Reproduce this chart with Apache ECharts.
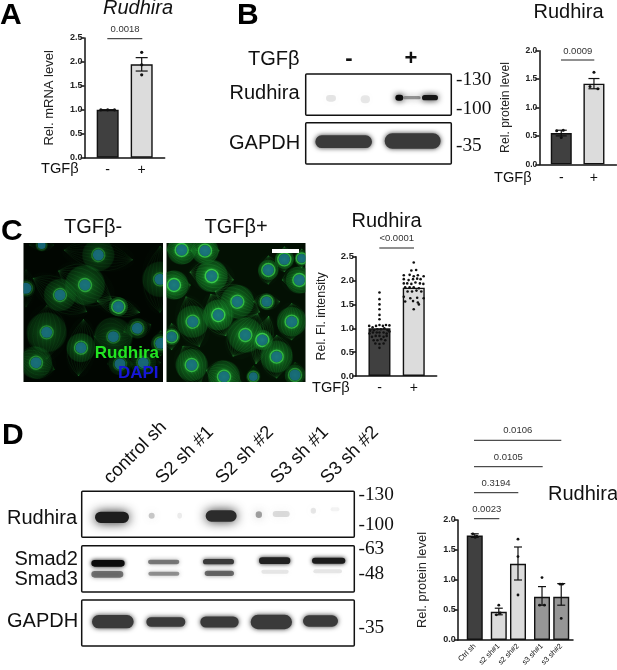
<!DOCTYPE html>
<html>
<head>
<meta charset="utf-8">
<style>
  html, body { margin: 0; padding: 0; background: #fff; }
  #main { width: 617px; height: 670px; }
</style>
<script src="https://cdn.jsdelivr.net/npm/echarts@6/dist/echarts.min.js"></script>
</head>
<body>
<div id="main"></div>
<script>
// panel A
const mrnaCats = ['-', '+'];
const mrnaTicks = [0, 0.5, 1, 1.5, 2, 2.5];
const mrnaVals = [1.0, 1.95];
const mrnaErrLow = [1.0, 1.81];
const mrnaErrHigh = [1.0, 2.09];
const mrnaPts = [[-0.2, 1], [0, 1], [0.2, 1], [1, 2.2], [1, 1.94], [1, 1.73]];

// panel B
const protCats = ['-', '+'];
const protTicks = [0, 0.5, 1, 1.5, 2];
const protVals = [0.55, 1.42];
const protErrLow = [0.5, 1.33];
const protErrHigh = [0.6, 1.51];
const protPts = [[-0.14, 0.59], [0.06, 0.6], [0, 0.47], [1, 1.62], [0.88, 1.37], [1.12, 1.33]];

// panel C
const fluoCats = ['-', '+'];
const fluoTicks = [0, 0.5, 1, 1.5, 2, 2.5];
const fluoVals = [1.0, 1.85];
const fluoPts = [
  [0, 1.75], [0, 1.61], [0, 1.5], [0, 1.4], [0, 1.28], [0, 1.19],
  [-0.3, 1.05], [-0.2, 1.02], [-0.1, 1.05], [0, 1.07], [0.1, 1.05], [0.19, 1.07], [0.29, 1.06],
  [-0.27, 0.95], [-0.16, 0.96], [-0.06, 0.98], [0.04, 0.98], [0.14, 1.0], [0.24, 0.96],
  [-0.29, 0.89], [-0.19, 0.91], [-0.08, 0.91], [0, 0.91], [0.12, 0.91], [0.21, 0.89], [0.29, 0.93],
  [-0.22, 0.82], [-0.11, 0.84], [0, 0.84], [0.12, 0.82], [0.21, 0.84],
  [-0.17, 0.75], [-0.06, 0.75], [0.05, 0.77], [0.17, 0.75],
  [-0.12, 0.68], [0, 0.67], [0.12, 0.68], [0, 0.59],
  [1, 2.38], [1.07, 2.22], [0.93, 2.21],
  [0.71, 2.11], [0.88, 2.12], [1, 2.09], [1.12, 2.11], [1.29, 2.09],
  [0.71, 2.03], [0.85, 2.01], [0.98, 2.03], [1.1, 2.04], [1.2, 2.03],
  [0.71, 1.94], [0.81, 1.94], [0.93, 1.93], [1.05, 1.96], [1.18, 1.94], [1.28, 1.93],
  [0.75, 1.86], [0.88, 1.86], [1, 1.86], [1.15, 1.84],
  [0.82, 1.77], [0.95, 1.77], [1.08, 1.79], [1.22, 1.77],
  [0.71, 1.66], [0.9, 1.63], [1.1, 1.64], [1.29, 1.63],
  [0.75, 1.56], [0.98, 1.57], [1.12, 1.54], [1.15, 1.5], [1, 1.4]
];

// panel D
const kdCats = ['Ctrl sh', 's2 sh#1', 's2 sh#2', 's3 sh#1', 's3 sh#2'];
const kdSlots = [0, 1, 1.8, 2.8, 3.6]; // prism groups the bars, gaps are not even
const kdTicks = [0, 0.5, 1, 1.5, 2];
const kdVals = [1.74, 0.47, 1.27, 0.72, 0.72];
const kdErrLow = [1.71, 0.42, 1.0, 0.58, 0.58];
const kdErrHigh = [1.77, 0.53, 1.55, 0.89, 0.94];
const kdPts = [
  [-0.08, 1.77], [0.08, 1.73], [0.02, 1.71],
  [1, 0.58], [0.9, 0.42], [1.06, 0.45],
  [1.8, 1.68], [1.8, 1.39], [1.8, 0.75],
  [2.8, 1.04], [2.7, 0.58], [2.9, 0.58],
  [3.55, 0.93], [3.65, 0.93], [3.6, 0.36]
];

const DARK = '#404040';
const LIGHT = '#dcdcdc';
const MID = '#969696';
const SANS = '"Liberation Sans", Arial, sans-serif';
const SERIF = '"Liberation Serif", "Times New Roman", serif';

const chart = echarts.init(document.getElementById('main'), null, { renderer: 'canvas' });

const grids = [], xAxes = [], yAxes = [], seriesList = [];

// adds one prism style bar panel, box is the pixel box of the axes
function addBarPanel(p) {
  const i = grids.length;
  grids.push({ left: p.box[0], top: p.box[1], width: p.box[2], height: p.box[3], containLabel: false });
  xAxes.push({
    gridIndex: i, type: 'value', min: p.xMin, max: p.xMax, splitLine: { show: false },
    axisLine: { onZero: false, lineStyle: { color: '#111', width: 1.5 } },
    axisTick: { show: false },
    axisLabel: {
      customValues: p.slots, interval: 0, margin: p.xMargin, rotate: p.rotate || 0,
      fontFamily: SANS, fontSize: p.xFont, color: '#111', hideOverlap: false,
      formatter: v => p.cats[p.slots.indexOf(v)]
    }
  });
  yAxes.push({
    gridIndex: i, type: 'value', min: 0, max: p.ticks[p.ticks.length - 1], interval: p.ticks[1],
    splitLine: { show: false },
    name: p.yName, nameLocation: 'middle', nameRotate: 90, nameGap: p.nameGap,
    nameTextStyle: { fontFamily: SANS, fontSize: p.nameFont, color: '#222' },
    axisLine: { show: true, onZero: false, lineStyle: { color: '#111', width: 1.5 } },
    axisTick: { show: true, length: 4, lineStyle: { color: '#111', width: 1.5 } },
    axisLabel: {
      margin: 2, fontFamily: SANS, fontWeight: 'bold', fontSize: p.yFont, color: '#222',
      formatter: v => v.toFixed(1)
    }
  });
  seriesList.push({
    type: 'bar', xAxisIndex: i, yAxisIndex: i, barWidth: p.barWidth, silent: true, z: 2,
    data: p.vals.map((v, k) => ({
      value: [p.slots[k], v],
      itemStyle: { color: p.colors[k], borderColor: '#111', borderWidth: 1.4 }
    }))
  });
  if (p.errLow) {
    seriesList.push({
      type: 'custom', xAxisIndex: i, yAxisIndex: i, z: 3, silent: true,
      data: p.vals.map((v, k) => [p.slots[k], p.errLow[k], p.errHigh[k]]),
      renderItem: (params, api) => {
        const lo = api.coord([api.value(0), api.value(1)]);
        const hi = api.coord([api.value(0), api.value(2)]);
        const cap = p.capWidth;
        const st = { stroke: '#111', lineWidth: 1.2 };
        return {
          type: 'group', children: [
            { type: 'line', shape: { x1: lo[0], y1: lo[1], x2: hi[0], y2: hi[1] }, style: st },
            { type: 'line', shape: { x1: lo[0] - cap, y1: lo[1], x2: lo[0] + cap, y2: lo[1] }, style: st },
            { type: 'line', shape: { x1: hi[0] - cap, y1: hi[1], x2: hi[0] + cap, y2: hi[1] }, style: st }
          ]
        };
      }
    });
  }
  seriesList.push({
    type: 'scatter', xAxisIndex: i, yAxisIndex: i, z: 4, silent: true,
    symbolSize: p.dot, itemStyle: { color: '#111', opacity: 1 }, data: p.pts
  });
}

addBarPanel({
  box: [84.5, 38, 80.2, 119.7], xMin: -0.682, xMax: 1.677, slots: [0, 1], cats: mrnaCats,
  ticks: mrnaTicks, vals: mrnaVals, errLow: mrnaErrLow, errHigh: mrnaErrHigh, pts: mrnaPts,
  colors: [DARK, LIGHT], barWidth: 22, capWidth: 6, dot: 3.2, yName: 'Rel. mRNA level',
  nameGap: 29, nameFont: 13, yFont: 9, xFont: 14, xMargin: 5
});
addBarPanel({
  box: [539.3, 50.7, 77.2, 113.6], xMin: -0.672, xMax: 1.69, slots: [0, 1], cats: protCats,
  ticks: protTicks, vals: protVals, errLow: protErrLow, errHigh: protErrHigh, pts: protPts,
  colors: [DARK, LIGHT], barWidth: 21, capWidth: 5.5, dot: 3, yName: 'Rel. protein level',
  nameGap: 28, nameFont: 12.2, yFont: 8.5, xFont: 14, xMargin: 7
});
addBarPanel({
  box: [356, 256.7, 80.7, 119.3], xMin: -0.685, xMax: 1.67, slots: [0, 1], cats: fluoCats,
  ticks: fluoTicks, vals: fluoVals, pts: fluoPts,
  colors: [DARK, LIGHT], barWidth: 22, capWidth: 5, dot: 2.6, yName: 'Rel. Fl. intensity',
  nameGap: 28, nameFont: 12.4, yFont: 9.5, xFont: 14, xMargin: 5
});
addBarPanel({
  box: [457.7, 520, 115.3, 120], xMin: -0.71, xMax: 4.09, slots: kdSlots, cats: kdCats,
  ticks: kdTicks, vals: kdVals, errLow: kdErrLow, errHigh: kdErrHigh, pts: kdPts,
  colors: [DARK, LIGHT, LIGHT, MID, MID], barWidth: 16, capWidth: 4, dot: 2.8, yName: 'Rel. protein level',
  nameGap: 29, nameFont: 12.9, yFont: 9, xFont: 7.5, xMargin: 5, rotate: 45
});

const cellsMinus = [
  [295, 165, 110, 50, 8, 0.45], [255, 255, 95, 62, 28, 0.65], [180, 285, 100, 50, 32, 0.55],
  [355, 320, 70, 30, 15, 0.8], [140, 397, 62, 85, 0, 0.5], [340, 410, 60, 60, 0, 0.4],
  [243, 443, 45, 90, 5, 0.6], [108, 488, 62, 50, 20, 0.55], [412, 385, 45, 32, -15, 0.4],
  [480, 238, 55, 105, 0, 0.45], [482, 430, 30, 40, 0, 0.45], [78, 265, 28, 60, 0, 0.3],
  [430, 488, 55, 40, 0, 0.35], [360, 492, 40, 35, 0, 0.3], [125, 135, 40, 20, 0, 0.25]
];
const cellsPlus = [
  [545, 150, 48, 45, 0, 0.85], [615, 152, 45, 42, 0, 0.85], [635, 228, 70, 50, 10, 0.95], [522, 255, 52, 45, 0, 0.95],
  [712, 305, 78, 52, 25, 0.8], [655, 345, 48, 70, -20, 0.95], [578, 365, 50, 82, -15, 0.75],
  [805, 210, 32, 45, 0, 0.8], [853, 178, 30, 40, 0, 0.8], [898, 240, 55, 42, 0, 0.8], [905, 175, 22, 30, 0, 0.75],
  [800, 305, 42, 26, 0, 0.65], [875, 365, 46, 58, 0, 0.8], [736, 405, 55, 78, 30, 0.8], [787, 420, 32, 78, 15, 0.95],
  [515, 410, 26, 42, 0, 0.8], [575, 495, 50, 66, -25, 0.8], [672, 530, 60, 50, 20, 0.8],
  [830, 470, 50, 68, 0, 0.8], [885, 525, 32, 40, 0, 0.55], [760, 530, 22, 35, 0, 0.45]
];

function cellItem(cell, box) {
  const [x, y, rx, ry, deg, g] = cell;
  const kids = [];
  const R = rx / 3, S = ry / 3;
  // long axis first so the spindle fibres follow it
  const long = Math.max(R, S), short = Math.min(R, S);
  const turn = R >= S ? 0 : Math.PI / 2;
  kids.push({
    type: 'ellipse', shape: { cx: 0, cy: 0, rx: long, ry: short }, rotation: turn,
    style: {
      fill: new echarts.graphic.RadialGradient(0.5, 0.5, 0.5, [
        { offset: 0, color: `rgba(45,215,65,${g})` },
        { offset: 0.35, color: `rgba(25,150,45,${0.8 * g})` },
        { offset: 0.92, color: `rgba(14,95,28,${0.65 * g})` },
        { offset: 1, color: `rgba(14,95,28,${0.05 * g})` }
      ])
    }
  });
  for (let k = -4; k <= 4; k++) {
    kids.push({
      type: 'bezierCurve', rotation: turn,
      shape: { x1: -long * 0.95, y1: 0, x2: long * 0.95, y2: 0, cpx1: k * 0.25 * short * 0.4, cpy1: k * 0.25 * short * 1.8 },
      style: { fill: 'none', stroke: `rgba(60,210,80,${0.25 * g})`, lineWidth: 0.5 }
    });
  }
  const nr = Math.min(short * 0.6, 5.5);
  kids.push({
    type: 'circle', shape: { cx: 0, cy: 0, r: nr + 1 },
    style: { fill: 'none', stroke: `rgba(70,235,90,${0.7 * g})`, lineWidth: 1.4, shadowColor: 'rgba(70,235,90,0.5)', shadowBlur: 3 }
  });
  kids.push({ type: 'circle', shape: { cx: 0, cy: 0, r: nr }, style: { fill: 'rgba(26,110,135,0.85)' } });
  return {
    type: 'group',
    clipPath: { type: 'rect', shape: box },
    children: [{ type: 'group', x: x / 3, y: y / 3 + 200, rotation: -deg * Math.PI / 180, children: kids }]
  };
}

const boxMinus = { x: 23.5, y: 243, width: 139.5, height: 139 };
const boxPlus = { x: 166.5, y: 243, width: 139, height: 139 };
seriesList.push({
  type: 'custom', coordinateSystem: 'none', z: 3, silent: true, data: cellsMinus.map((c, k) => [k]),
  renderItem: params => cellItem(cellsMinus[params.dataIndex], boxMinus)
});
seriesList.push({
  type: 'custom', coordinateSystem: 'none', z: 3, silent: true, data: cellsPlus.map((c, k) => [k]),
  renderItem: params => cellItem(cellsPlus[params.dataIndex], boxPlus)
});

// ---- text and decoration
const gfx = [];
function txt(text, x, y, size, opt) {
  opt = opt || {};
  gfx.push({
    type: 'text', x: x, y: y, z: 20, rotation: opt.rot || 0,
    style: {
      text: text, fill: opt.color || '#111', textAlign: opt.align || 'left', textVerticalAlign: 'middle',
      font: `${opt.style || 'normal'} ${opt.weight || 'normal'} ${size}px ${opt.family || SANS}`
    }
  });
}
function pval(label, x0, x1, yLine, yText, cx) {
  gfx.push({ type: 'line', z: 20, shape: { x1: x0, y1: yLine, x2: x1, y2: yLine }, style: { stroke: '#222', lineWidth: 1 } });
  txt(label, cx, yText, 9.5, { align: 'center', color: '#333' });
}
function frame(x, y, w, h) {
  gfx.push({ type: 'rect', z: 6, shape: { x: x, y: y, width: w, height: h, r: 1 }, style: { fill: 'none', stroke: '#111', lineWidth: 1.5 } });
}
// band on a blot, given in 3x crop coordinates
function band(ox, oy, x0, x1, cy, h, color, blur) {
  const bh = h / 3;
  gfx.push({
    type: 'rect', z: 4,
    shape: { x: ox + x0 / 3, y: oy + cy / 3 - bh / 2, width: (x1 - x0) / 3, height: bh, r: bh / 2 },
    style: { fill: color, shadowColor: color, shadowBlur: blur }
  });
}

// panel letters
txt('A', 0, 16, 30, { weight: 'bold', color: '#000' });
txt('B', 237, 16, 30, { weight: 'bold', color: '#000' });
txt('C', 1, 232, 30, { weight: 'bold', color: '#000' });
txt('D', 2, 436, 30, { weight: 'bold', color: '#000' });

// A
txt('Rudhira', 138, 8, 20, { align: 'center', style: 'italic' });
txt('TGFβ', 41, 168.5, 14.6);
pval('0.0018', 107.3, 142.3, 38.7, 29, 125);

// B
txt('Rudhira', 568.5, 12, 20, { align: 'center' });
txt('TGFβ', 248, 59, 20);
txt('-', 349, 59, 22, { align: 'center', weight: 'bold' });
txt('+', 411, 59, 22, { align: 'center', weight: 'bold' });
txt('Rudhira', 229.5, 93, 20);
txt('GAPDH', 229, 143, 20);
txt('-130', 456, 80, 19.3, { family: SERIF });
txt('-100', 456, 109, 19.3, { family: SERIF });
txt('-35', 456, 146, 19.3, { family: SERIF });
txt('TGFβ', 494, 178, 14.6);
pval('0.0009', 561, 594.3, 60, 51, 577.7);
band(200, 0, 378, 408, 295, 20, 'rgba(130,130,130,0.2)', 9);
band(200, 0, 482, 510, 298, 24, 'rgba(130,130,130,0.18)', 9);
band(200, 0, 586, 610, 293, 18, '#0a0a0a', 6);
band(200, 0, 610, 662, 293, 10, 'rgba(110,110,110,0.7)', 6);
band(200, 0, 666, 714, 293, 16, '#161616', 6);
band(200, 0, 346, 516, 425, 38, '#3a3a3a', 5);
band(200, 0, 554, 722, 423, 46, '#3a3a3a', 5);
frame(305.7, 74, 145.6, 41.3);
frame(305.7, 122.7, 145.6, 41.3);

// C
txt('TGFβ-', 93, 227, 20, { align: 'center' });
txt('TGFβ+', 236, 227, 20, { align: 'center' });
txt('Rudhira', 386.5, 221, 20, { align: 'center' });
txt('TGFβ', 312, 388, 14.6);
pval('<0.0001', 379.3, 414, 248, 238, 396.7);
gfx.push({ type: 'rect', z: 0, shape: boxMinus, style: { fill: '#010601' } });
gfx.push({ type: 'rect', z: 0, shape: boxPlus, style: { fill: '#031003' } });
gfx.push({ type: 'rect', z: 20, shape: { x: 272, y: 249, width: 27, height: 4 }, style: { fill: '#fff' } });
txt('Rudhira', 159, 353, 17, { align: 'right', weight: 'bold', color: '#22e622' });
txt('DAPI', 158.5, 373, 17, { align: 'right', weight: 'bold', color: '#1616d8' });

// D blots
const laneNames = ['control sh', 'S2 sh #1', 'S2 sh #2', 'S3 sh #1', 'S3 sh #2'];
const laneX = [107, 159, 219, 274, 324];
laneNames.forEach((n, k) => txt(n, laneX[k], 481, 18.5, { rot: Math.PI / 4 }));
txt('Rudhira', 7, 518, 20);
txt('Smad2', 14.5, 559, 20);
txt('Smad3', 14.5, 579, 20);
txt('GAPDH', 7, 621, 20);
txt('-130', 358.5, 495, 19.3, { family: SERIF });
txt('-100', 358.5, 525, 19.3, { family: SERIF });
txt('-63', 358.5, 549, 19.3, { family: SERIF });
txt('-48', 358.5, 574, 19.3, { family: SERIF });
txt('-35', 358.5, 628, 19.3, { family: SERIF });
txt('Rudhira', 548, 494, 20);
pval('0.0106', 474, 561.3, 440.3, 430.7, 517.7);
pval('0.0105', 474, 542.7, 466.7, 457, 508.3);
pval('0.3194', 474, 518.3, 492.7, 483.3, 496);
pval('0.0023', 474, 499.3, 518.7, 509.3, 486.7);

const oy = 410;
band(0, oy, 285, 387, 322, 34, '#1d1d1d', 11);
band(0, oy, 446, 464, 317, 18, 'rgba(120,120,120,0.4)', 8);
band(0, oy, 532, 546, 317, 18, 'rgba(160,160,160,0.2)', 8);
band(0, oy, 617, 710, 318, 34, '#2c2c2c', 11);
band(0, oy, 767, 786, 314, 20, 'rgba(100,100,100,0.6)', 8);
band(0, oy, 818, 869, 312, 18, 'rgba(150,150,150,0.32)', 8);
band(0, oy, 932, 948, 302, 18, 'rgba(160,160,160,0.25)', 8);
band(0, oy, 992, 1018, 298, 12, 'rgba(180,180,180,0.16)', 8);

band(0, oy, 274, 374, 460, 20, '#0c0c0c', 4);
band(0, oy, 444, 538, 456, 13, 'rgba(80,80,80,0.7)', 4);
band(0, oy, 609, 702, 455, 16, '#3a3a3a', 4);
band(0, oy, 777, 871, 452, 20, '#222', 4);
band(0, oy, 936, 1036, 452, 18, '#1c1c1c', 4);
band(0, oy, 274, 370, 493, 20, 'rgba(80,80,80,0.75)', 4);
band(0, oy, 445, 538, 491, 12, 'rgba(100,100,100,0.65)', 4);
band(0, oy, 614, 702, 490, 16, 'rgba(70,70,70,0.75)', 4);
band(0, oy, 784, 866, 485, 12, 'rgba(180,180,180,0.3)', 5);
band(0, oy, 940, 1026, 484, 12, 'rgba(180,180,180,0.3)', 5);

band(0, oy, 276, 401, 635, 40, '#3a3a3a', 5);
band(0, oy, 439, 556, 636, 29, '#3a3a3a', 5);
band(0, oy, 601, 716, 636, 33, '#3a3a3a', 5);
band(0, oy, 752, 876, 636, 43, '#3a3a3a', 5);
band(0, oy, 909, 1014, 633, 35, '#3a3a3a', 5);
frame(81.7, 491.3, 272.6, 46);
frame(81.7, 545.7, 272.6, 46.3);
frame(81.7, 600, 272.6, 46);

chart.setOption({
  animation: false,
  backgroundColor: '#fff',
  tooltip: { show: false },
  grid: grids,
  xAxis: xAxes,
  yAxis: yAxes,
  series: seriesList,
  graphic: { elements: gfx }
});
</script>
</body>
</html>
